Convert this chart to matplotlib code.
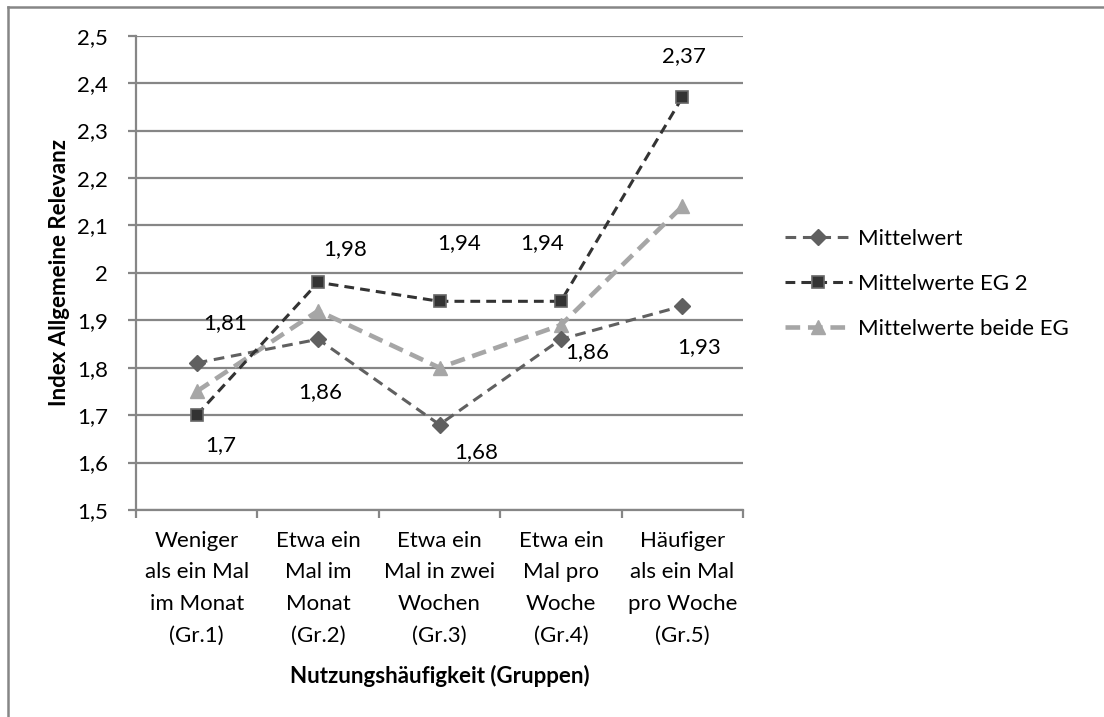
import matplotlib
matplotlib.use("Agg")
import matplotlib.pyplot as plt
from matplotlib.lines import Line2D

plt.rcParams['font.family'] = ['Lato', 'DejaVu Sans']

categories = ["Weniger\nals ein Mal\nim Monat\n(Gr.1)",
              "Etwa ein\nMal im\nMonat\n(Gr.2)",
              "Etwa ein\nMal in zwei\nWochen\n(Gr.3)",
              "Etwa ein\nMal pro\nWoche\n(Gr.4)",
              "Häufiger\nals ein Mal\npro Woche\n(Gr.5)"]
mittelwert = [1.81, 1.86, 1.68, 1.86, 1.93]
mittelwerte_eg2 = [1.70, 1.98, 1.94, 1.94, 2.37]
mittelwerte_beide = [1.75, 1.92, 1.80, 1.89, 2.14]
yticks = [1.5, 1.6, 1.7, 1.8, 1.9, 2.0, 2.1, 2.2, 2.3, 2.4, 2.5]
ytick_labels = ["1,5", "1,6", "1,7", "1,8", "1,9", "2", "2,1", "2,2", "2,3", "2,4", "2,5"]

# label offsets in pixels (dx right, dy down)
off_mw = [(28, -40), (2, 53), (37, 27), (26, 13), (17, 41)]
off_eg2 = [(24, 30), (27, -33), (20, -58), (-19, -58), (2, -41)]

FS = 16
W, H, DPI = 1104, 717, 100
fig = plt.figure(figsize=(W / DPI, H / DPI), dpi=DPI)
ax = fig.add_axes([136 / W, 1 - 510 / H, (743 - 136) / W, (510 - 35.7) / H])

grid_c = '#868686'
x = list(range(1, len(categories) + 1))

l1, = ax.plot(x, mittelwert, color='#606060', lw=2.2, dashes=(3.5, 2.2),
              marker='D', ms=8.5, mfc='#606060', mec='#606060', zorder=3,
              label='Mittelwert')
l2, = ax.plot(x, mittelwerte_eg2, color='#333333', lw=2.2, dashes=(3.2, 2.0),
              marker='s', ms=9, mfc='#333333', mec='#666666', mew=1.2, zorder=4,
              label='Mittelwerte EG 2')
l3, = ax.plot(x, mittelwerte_beide, color='#a6a6a6', lw=3.3, dashes=(3.2, 1.7),
              marker='^', ms=10, mfc='#a6a6a6', mec='#a6a6a6', zorder=2,
              label='Mittelwerte beide EG')

def fmt(v):
    s = ('%.2f' % v).rstrip('0').rstrip('.')
    return s.replace('.', ',')

for xi, v, (dx, dy) in zip(x, mittelwert, off_mw):
    ax.annotate(fmt(v), (xi, v), xytext=(dx * 0.72, -dy * 0.72), textcoords='offset points',
                ha='center', va='center', fontsize=FS, color='black')
for xi, v, (dx, dy) in zip(x, mittelwerte_eg2, off_eg2):
    ax.annotate(fmt(v), (xi, v), xytext=(dx * 0.72, -dy * 0.72), textcoords='offset points',
                ha='center', va='center', fontsize=FS, color='black')

ax.set_xlim(0.5, len(categories) + 0.5)
ax.set_ylim(1.5, 2.5)
ax.set_yticks(yticks)
ax.set_yticklabels(ytick_labels, fontsize=FS)
ax.yaxis.grid(True, color=grid_c, lw=1.6)
ax.set_axisbelow(True)

ax.set_xticks([i + 0.5 for i in range(0, len(categories) + 1)])
ax.set_xticklabels([])
ax.set_xticks(x, minor=True)
ax.set_xticklabels(categories, minor=True, fontsize=FS, linespacing=1.72)
ax.tick_params(axis='x', which='major', length=6, width=1.6, color=grid_c, direction='out')
ax.tick_params(axis='x', which='minor', length=0, pad=15)
ax.tick_params(axis='y', length=6, width=1.6, color=grid_c, direction='out', pad=14)

for s in ['top', 'right']:
    ax.spines[s].set_visible(False)
for s in ['left', 'bottom']:
    ax.spines[s].set_color(grid_c)
    ax.spines[s].set_linewidth(1.6)

ax.set_ylabel('Index Allgemeine Relevanz', fontsize=FS, fontweight='bold', labelpad=5)
ax.set_xlabel('Nutzungshäufigkeit (Gruppen)', fontsize=FS, fontweight='bold', labelpad=14)

leg = fig.legend(handles=[l1, l2, l3], loc='center left',
                 bbox_to_anchor=(774 / W, 1 - 284 / H), frameon=False, fontsize=FS,
                 handlelength=3.0, handletextpad=0.3, labelspacing=1.12, borderpad=0)

# outer chart border (partially visible)
fig.add_artist(Line2D([7.5 / W, 7.5 / W], [1 - 7 / H, 0], color=grid_c, lw=1.8))
fig.add_artist(Line2D([7.5 / W, 1], [1 - 7 / H, 1 - 7 / H], color=grid_c, lw=1.8))

fig.savefig('out.png', dpi=DPI)
